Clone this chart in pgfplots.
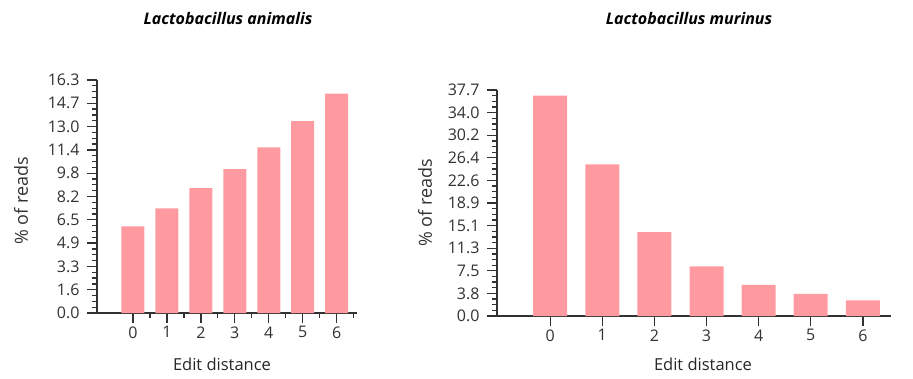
\documentclass[border=0pt]{standalone}
\usepackage{pgfplots}
\pgfplotsset{compat=1.18}
\usepackage{fontspec}
\setmainfont{Open Sans}
\definecolor{barpink}{RGB}{255,155,160}
\definecolor{axgray}{RGB}{50,50,50}
\pgfplotsset{
  myax/.style={
    scale only axis,
    anchor=south west,
    axis lines=left,
    axis line style={-, axgray, line width=1.3pt},
    every tick/.style={axgray, line width=1.3pt},
    tick align=outside,
    major tick length=10pt,
    minor tick length=5pt,
    ymin=0,
    xtick={0,...,6},
    ybar,
    xticklabel style={font=\fontsize{16}{16}\selectfont, text=axgray},
    yticklabel style={font=\fontsize{16}{16}\selectfont, text=axgray, xshift=-4pt},
    /pgf/number format/assume math mode=true,
    minor y tick num=3,
    enlarge y limits=false,
  }
}
\begin{document}
\begin{tikzpicture}
\useasboundingbox (0,0) rectangle (913pt,378pt);
% left chart
\begin{axis}[myax,
  at={(97pt,65pt)}, width=260pt, height=233pt,
  xmin=-1.06, xmax=6.6, ymax=16.3,
  minor xtick={0.5,1.5,...,6.5},
  bar width=23pt,
  ytick={0,1.63,3.26,4.89,6.52,8.15,9.78,11.41,13.04,14.67,16.3},
  yticklabels={0.0,1.6,3.3,4.9,6.5,8.2,9.8,11.4,13.0,14.7,16.3},
]
\addplot[draw=none, fill=barpink] coordinates {(0,6.06) (1,7.32) (2,8.74) (3,10.07) (4,11.58) (5,13.42) (6,15.34)};
\end{axis}
% right chart
\begin{axis}[myax,
  at={(497pt,62pt)}, width=394pt, height=226pt,
  xmin=-1.02, xmax=6.54, ymax=37.74,
  bar width=34pt,
  ytick={0,3.774,7.548,11.322,15.096,18.87,22.644,26.418,30.192,33.966,37.74},
  yticklabels={0.0,3.8,7.5,11.3,15.1,18.9,22.6,26.4,30.2,34.0,37.7},
]
\addplot[draw=none, fill=barpink] coordinates {(0,36.8) (1,25.3) (2,14.0) (3,8.3) (4,5.18) (5,3.68) (6,2.62)};
\end{axis}
% titles and labels
\node[font=\bfseries\itshape\fontsize{16}{16}\selectfont] at (228pt,359pt) {Lactobacillus animalis};
\node[font=\bfseries\itshape\fontsize{16}{16}\selectfont] at (689pt,359pt) {Lactobacillus murinus};
\node[rotate=90, font=\fontsize{18}{18}\selectfont, text=axgray] at (21pt,177pt) {\% of reads};
\node[rotate=90, font=\fontsize{18}{18}\selectfont, text=axgray] at (425pt,175pt) {\% of reads};
\node[font=\fontsize{16.5}{16.5}\selectfont, text=black!85] at (222pt,14pt) {Edit distance};
\node[font=\fontsize{16.5}{16.5}\selectfont, text=black!85] at (703pt,14pt) {Edit distance};
\end{tikzpicture}
\end{document}
